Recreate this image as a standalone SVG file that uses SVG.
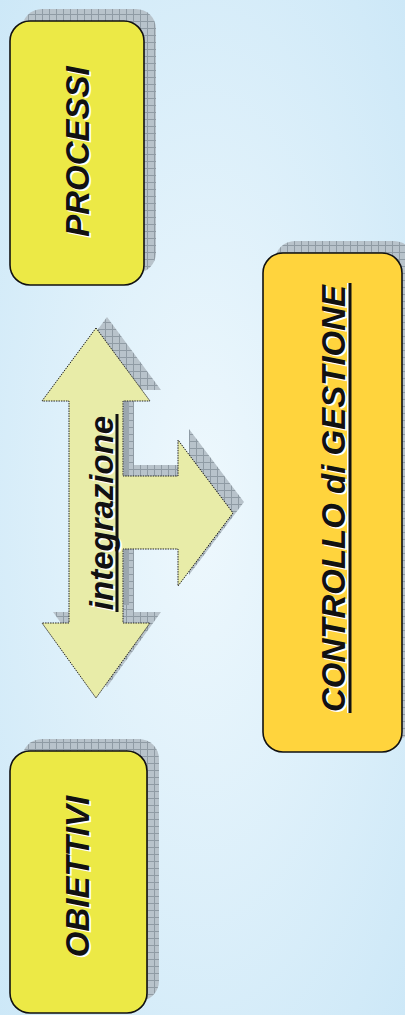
<svg xmlns="http://www.w3.org/2000/svg" width="405" height="1015" viewBox="0 0 405 1015">
  <defs>
    <radialGradient id="bg" cx="50%" cy="50%" r="75%" gradientUnits="objectBoundingBox">
      <stop offset="0" stop-color="#eef8fd"/>
      <stop offset="1" stop-color="#cbe7f7"/>
    </radialGradient>
    <pattern id="grid" width="7" height="7" patternUnits="userSpaceOnUse">
      <rect width="7" height="7" fill="#b8c3cb"/>
      <path d="M0 0.5H7M0.5 0V7" stroke="#8f9ba4" stroke-width="1" fill="none"/>
    </pattern>
  </defs>
  <style>
    .shadow { fill: url(#grid); }
    .box { stroke: #111; stroke-width: 1.6; }
    .yel { fill: #ece946; }
    .gold { fill: #ffd43d; }
    .lbl { font-family: "Liberation Sans", Arial, sans-serif; font-weight: bold; font-style: italic; font-size: 33px; text-anchor: middle; }
    .wh { fill: #ffffff; }
    .bk { fill: #111111; }
    .arrow { fill: #e8eca8; stroke: #222; stroke-width: 1; stroke-dasharray: 1.5 1; }
    .ul { stroke: #111; stroke-width: 3; }
  </style>
  <rect width="405" height="1015" fill="url(#bg)"/>

  <g id="connectors">
    <polygon class="shadow" points="107,317 161,390 134,390 134,465 189,465 189,429 244,502 189,575 189,538 134,538 134,612 161,612 107,687 53,612 80,612 80,390 53,390"/>
    <rect x="124" y="401" width="5" height="75" fill="#9ba6ae"/>
    <rect x="124" y="549" width="5" height="56" fill="#9ba6ae"/>
    <polygon class="arrow" points="96,328 150,401 123,401 123,476 178,476 178,440 233,513 178,586 178,549 123,549 123,623 150,623 96,698 42,623 69,623 69,401 42,401"/>
    <g id="integrazione-label">
      <text class="lbl wh" font-size="34" transform="translate(114.5,514.5) rotate(-90)">integrazione</text>
      <text class="lbl bk" font-size="34" transform="translate(113,513) rotate(-90)">integrazione</text>
      <line class="ul" x1="117" y1="414" x2="117" y2="612"/>
    </g>
  </g>

  <g id="processi">
    <rect class="shadow" x="22" y="9" width="134" height="264" rx="20"/>
    <rect class="box yel" x="10" y="21" width="134" height="264" rx="20"/>
    <text class="lbl wh" transform="translate(90.5,153) rotate(-90)">PROCESSI</text>
    <text class="lbl bk" transform="translate(89,151.5) rotate(-90)">PROCESSI</text>
  </g>

  <g id="obiettivi">
    <rect class="shadow" x="22" y="739" width="137" height="262" rx="20"/>
    <rect class="box yel" x="10" y="751" width="137" height="262" rx="20"/>
    <text class="lbl wh" transform="translate(90.5,878) rotate(-90)">OBIETTIVI</text>
    <text class="lbl bk" transform="translate(89,876.5) rotate(-90)">OBIETTIVI</text>
  </g>

  <g id="controllo">
    <rect class="shadow" x="275" y="241" width="139" height="499" rx="20"/>
    <rect class="box gold" x="263" y="253" width="139" height="499" rx="20"/>
    <text class="lbl wh" transform="translate(346.5,500) rotate(-90)">CONTROLLO di GESTIONE</text>
    <text class="lbl bk" transform="translate(345,498.5) rotate(-90)">CONTROLLO di GESTIONE</text>
    <line x1="348" y1="283" x2="348" y2="713" stroke="#fff" stroke-width="2"/>
    <line class="ul" x1="350" y1="283" x2="350" y2="713"/>
  </g>
</svg>
